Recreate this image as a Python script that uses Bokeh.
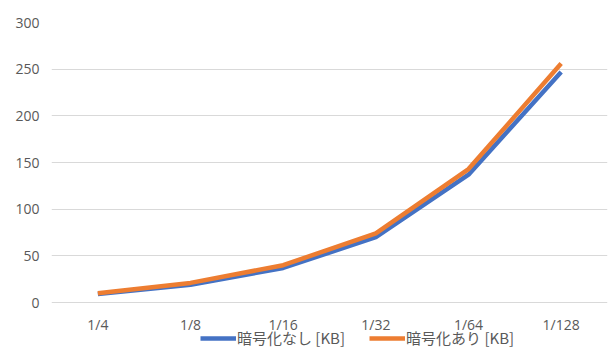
from bokeh.plotting import figure
from bokeh.models import FactorRange, Range1d, Legend, LegendItem
from bokeh.embed import file_html
from bokeh.resources import INLINE

categories = ["1/4", "1/8", "1/16", "1/32", "1/64", "1/128"]
no_enc = [9, 19, 37, 70, 137, 247]
with_enc = [10, 21, 40, 74, 143, 256]
y_ticks = [0, 50, 100, 150, 200, 250, 300]
labels = ["暗号化なし [KB]", "暗号化あり [KB]"]

# frame extends to the bottom of the window so the legend can sit below the 0 line
px_per_unit = 280 / 300.0
bottom = -45 / px_per_unit

p = figure(width=609, height=347, x_range=FactorRange(*categories, range_padding=0),
           y_range=Range1d(bottom, 300), output_backend="svg", toolbar_location=None,
           min_border_left=51, min_border_right=2, min_border_top=22, min_border_bottom=0)
p.outline_line_color = None
p.background_fill_color = "white"

r1 = p.line(categories, no_enc, line_color="#4472C4", line_width=4.5)
r2 = p.line(categories, with_enc, line_color="#ED7D31", line_width=4.5)

# category labels under the 0 line
p.text(x=categories, y=[-21.5 / px_per_unit] * len(categories), text=categories,
       text_align="center", text_baseline="middle", text_color="#595959",
       text_font_size="14px", text_font={"value": "Open Sans"})
p.xaxis.visible = False

p.yaxis.ticker = y_ticks
p.ygrid.grid_line_color = "#d9d9d9"
p.xgrid.grid_line_color = None
ax = p.yaxis[0]
ax.axis_line_color = None
ax.major_tick_line_color = None
ax.minor_tick_line_color = None
ax.major_label_text_color = "#595959"
ax.major_label_text_font_size = "14px"
ax.major_label_text_font = "Open Sans"
p.yaxis.major_label_standoff = 6

legend = Legend(items=[LegendItem(label=labels[0], renderers=[r1]),
                       LegendItem(label=labels[1], renderers=[r2])],
                orientation="horizontal", location=(149, -1),
                label_text_font="Noto Sans CJK JP", label_text_font_size="15px",
                label_text_color="#595959", glyph_width=36, glyph_height=14,
                spacing=24, padding=0, margin=0, border_line_color=None,
                label_standoff=1, label_height=14, background_fill_alpha=0)
p.add_layout(legend, "center")

open("out.html", "w").write(file_html(p, INLINE))
